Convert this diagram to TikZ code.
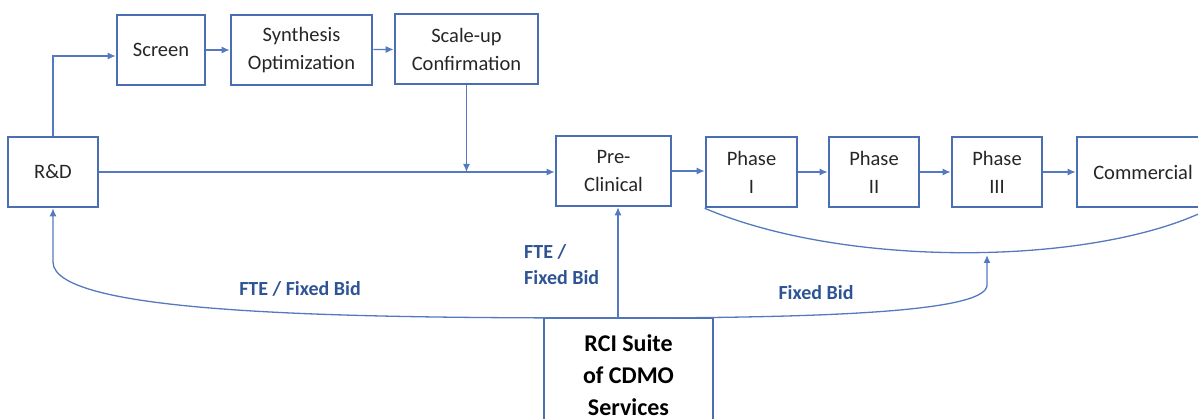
\documentclass[tikz,border=0pt]{standalone}
\usepackage{fontspec}
\setmainfont{Carlito}
\usetikzlibrary{arrows.meta, positioning}
\definecolor{boxblue}{HTML}{4A6EB3}
\definecolor{lineblue}{HTML}{5479BE}
\definecolor{bidblue}{HTML}{2F5496}
\tikzset{>={Latex[length=8pt,width=7pt]}}

\begin{document}
\begin{tikzpicture}[x=1pt, y=-1pt,
	stage/.style={draw=boxblue, line width=2.6pt, align=center, text=black!85, inner sep=0pt, font=\fontsize{20.5}{28}\selectfont},
	link/.style={draw=lineblue, line width=1.3pt, ->},
	bid/.style={text=bidblue, inner sep=0pt, font=\fontsize{20}{26}\selectfont\bfseries}]
	\useasboundingbox (0,0) rectangle (1198,419);

	\node[stage, minimum width=90, minimum height=70]	(RnD)	 at (53,172)	 {R\&D};
	\node[stage, minimum width=88, minimum height=70]	(Screen)	 at (161,50)	 {Screen};
	\node[stage, minimum width=141, minimum height=70]	(Synth)	 at (301.5,50)	 {Synthesis\\Optimization};
	\node[stage, minimum width=143, minimum height=70]	(ScaleUp)	 at (466.5,49)	 {Scale-up\\Confirmation};
	\node[stage, minimum width=115, minimum height=70]	(PreClin)	 at (613.5,171)	 {Pre-\\Clinical};
	\node[stage, minimum width=91, minimum height=70]	(PhI)	 at (751.5,172)	 {Phase\\I};
	\node[stage, minimum width=90, minimum height=70]	(PhII)	 at (874,172)	 {Phase\\II};
	\node[stage, minimum width=90, minimum height=70]	(PhIII)	 at (997,172)	 {Phase\\III};
	\node[stage, minimum width=132, minimum height=70]	(Comm)	 at (1143,172)	 {Commercial};
	\node[stage, minimum width=169, minimum height=114, font=\fontsize{24}{32}\selectfont\bfseries, text=black]	(RCI)	 at (628.5,375)	 {RCI Suite\\of CDMO\\Services};

	\coordinate (hub) at (618,318);
	\coordinate (low) at (987,255);

	\draw[link] (RnD.north) |- ([yshift=-6pt]Screen.west);
	\draw[link] (Screen) -- (Synth);
	\draw[link] (Synth) -- (ScaleUp);
	\draw[link] (ScaleUp.south) -- (ScaleUp.south |- RnD.east);
	\draw[link] (RnD.east) -- (RnD.east -| PreClin.west);
	\draw[link] (PreClin.east) -- (PreClin.east -| PhI.west);
	\draw[link] (PhI) -- (PhII);
	\draw[link] (PhII) -- (PhIII);
	\draw[link] (PhIII) -- (Comm);

	% bracket under the clinical phases
	\draw[draw=lineblue, line width=1.3pt] (PhI.south west) .. controls (850,270) and (1100,265) .. (Comm.south east);

	\draw[link] (hub) -- (hub |- PreClin.south);
	\draw[link] (hub) .. controls (350,318) and (53,315) .. (53,262) -- (RnD.south);
	\draw[link] (hub) .. controls (850,318) and (987,310) .. (987,285) -- (low);

	\node[bid]	(BidLeft)	 at (300,289)	 {FTE / Fixed Bid};
	\node[bid, align=left, anchor=west]	(BidMid)	 at (524,265)	 {FTE /\\Fixed Bid};
	\node[bid]	(BidRight)	 at (816,293)	 {Fixed Bid};
\end{tikzpicture}
\end{document}
